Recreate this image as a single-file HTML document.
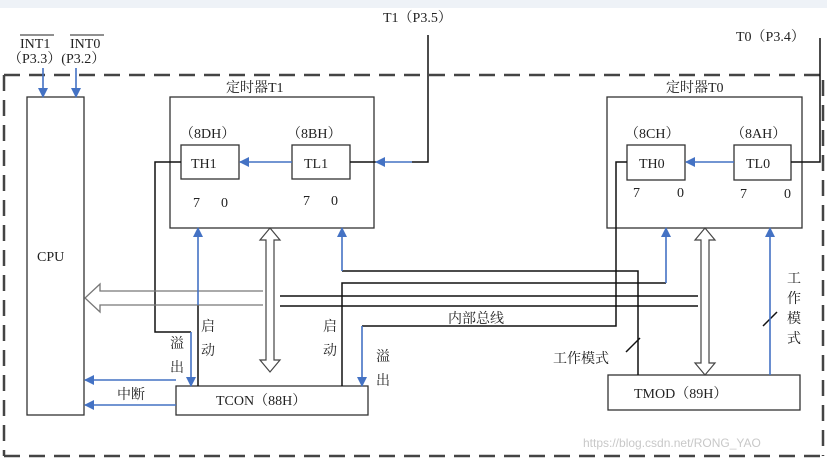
<!DOCTYPE html>
<html><head><meta charset="utf-8"><style>
html,body{margin:0;padding:0;background:#fff;}
svg{display:block;font-family:"Liberation Serif","Noto Serif CJK SC",serif;}
</style></head><body>
<svg width="827" height="462" viewBox="0 0 827 462" xmlns="http://www.w3.org/2000/svg">
<defs>
<marker id="ab" markerWidth="10" markerHeight="10" refX="9" refY="5" orient="auto" markerUnits="userSpaceOnUse">
<path d="M0,0 L10,5 L0,10 z" fill="#4472c4"/></marker>
</defs>
<rect x="0" y="0" width="827" height="8" fill="#eef2f7"/>
<g stroke="#444" stroke-width="2.5" stroke-dasharray="16,9" fill="none">
<line x1="4" y1="75" x2="822" y2="75"/>
<line x1="4" y1="456" x2="822" y2="456"/>
<line x1="4" y1="75" x2="4" y2="456"/>
<line x1="823" y1="80" x2="823" y2="456"/>
</g>
<g font-size="14" fill="#222">
<text x="20" y="48">INT1</text><line x1="20" y1="35" x2="54" y2="35" stroke="#222"/>
<text x="70" y="48">INT0</text><line x1="70" y1="35" x2="104" y2="35" stroke="#222"/>
<text x="8" y="63">（P3.3）(P3.2）</text>
<text x="383" y="22">T1（P3.5）</text>
<text x="736" y="41">T0（P3.4）</text>
<text x="226" y="92">定时器T1</text>
<text x="666" y="92">定时器T0</text>
<text x="180" y="138">（8DH）</text>
<text x="287" y="138">（8BH）</text>
<text x="625" y="138">（8CH）</text>
<text x="731" y="138">（8AH）</text>
<text x="193" y="207">7</text><text x="221" y="207">0</text>
<text x="303" y="205">7</text><text x="331" y="205">0</text>
<text x="633" y="197">7</text><text x="677" y="197">0</text>
<text x="740" y="198">7</text><text x="784" y="198">0</text>
<text x="37" y="261">CPU</text>
<text x="191" y="168">TH1</text><text x="304" y="168">TL1</text>
<text x="639" y="168">TH0</text><text x="746" y="168">TL0</text>
<text x="216" y="405">TCON（88H）</text>
<text x="634" y="398">TMOD（89H）</text>
<text x="448" y="323">内部总线</text>
<text x="117" y="399">中断</text>
<text x="201" y="331">启</text><text x="201" y="355">动</text>
<text x="170" y="348">溢</text><text x="170" y="372">出</text>
<text x="323" y="331">启</text><text x="323" y="355">动</text>
<text x="376" y="361">溢</text><text x="376" y="385">出</text>
<text x="553" y="363">工作模式</text>
<text x="787" y="283">工</text><text x="787" y="303">作</text><text x="787" y="323">模</text><text x="787" y="343">式</text>
</g>
<text x="583" y="447" font-family="Liberation Sans,sans-serif" font-size="12" fill="#c8c8c8">https://blog.csdn.net/RONG_YAO</text>
<g fill="none" stroke="#333" stroke-width="1.3">
<rect x="27" y="97" width="57" height="318"/>
<rect x="170" y="97" width="204" height="131"/>
<rect x="607" y="97" width="195" height="131"/>
<rect x="181" y="145" width="58" height="34"/>
<rect x="292" y="145" width="58" height="34"/>
<rect x="627" y="145" width="58" height="35"/>
<rect x="734" y="145" width="57" height="35"/>
<rect x="176" y="386" width="192" height="29"/>
<rect x="608" y="375" width="192" height="35"/>
</g>
<g fill="none" stroke="#111" stroke-width="1.5">
<polyline points="428,35 428,162 412,162"/>
<line x1="350" y1="162" x2="376" y2="162"/>
<polyline points="791,162 820,162 820,38"/>
<polyline points="181,162 155,162 155,332 191,332"/>
<line x1="198" y1="386" x2="198" y2="305"/>
<polyline points="627,162 616,162 616,326 362,326"/>
<polyline points="342,386 342,283 666,283"/>
<polyline points="342,271 638,271 638,375"/>
<line x1="280" y1="296" x2="698" y2="296"/>
<line x1="280" y1="306" x2="698" y2="306"/>
<line x1="626" y1="352" x2="640" y2="338"/>
<line x1="763" y1="326" x2="777" y2="312"/>
</g>
<g fill="none" stroke="#777" stroke-width="1.3">
<polyline points="263,291 100,291 100,284 85,298 100,312 100,305 263,305"/>
</g>
<g fill="#fff" stroke="#444" stroke-width="1.2">
<path d="M270,228 L280,240 L274,240 L274,360 L280,360 L270,372 L260,360 L266,360 L266,240 L260,240 Z"/>
<path d="M705,228 L715,240 L709,240 L709,363 L715,363 L705,375 L695,363 L701,363 L701,240 L695,240 Z"/>
</g>
<g fill="none" stroke="#4472c4" stroke-width="1.6" marker-end="url(#ab)">
<line x1="43" y1="68" x2="43" y2="97"/>
<line x1="76" y1="68" x2="76" y2="97"/>
<line x1="292" y1="162" x2="240" y2="162"/>
<line x1="412" y1="162" x2="376" y2="162"/>
<line x1="734" y1="162" x2="686" y2="162"/>
<line x1="198" y1="305" x2="198" y2="228"/>
<line x1="342" y1="271" x2="342" y2="228"/>
<polyline points="666,283 666,228"/>
<line x1="770" y1="375" x2="770" y2="228"/>
<line x1="191" y1="332" x2="191" y2="386"/>
<line x1="362" y1="326" x2="362" y2="386"/>
<line x1="176" y1="380" x2="85" y2="380"/>
<line x1="176" y1="405" x2="85" y2="405"/>
</g>
</svg>
</body></html>
